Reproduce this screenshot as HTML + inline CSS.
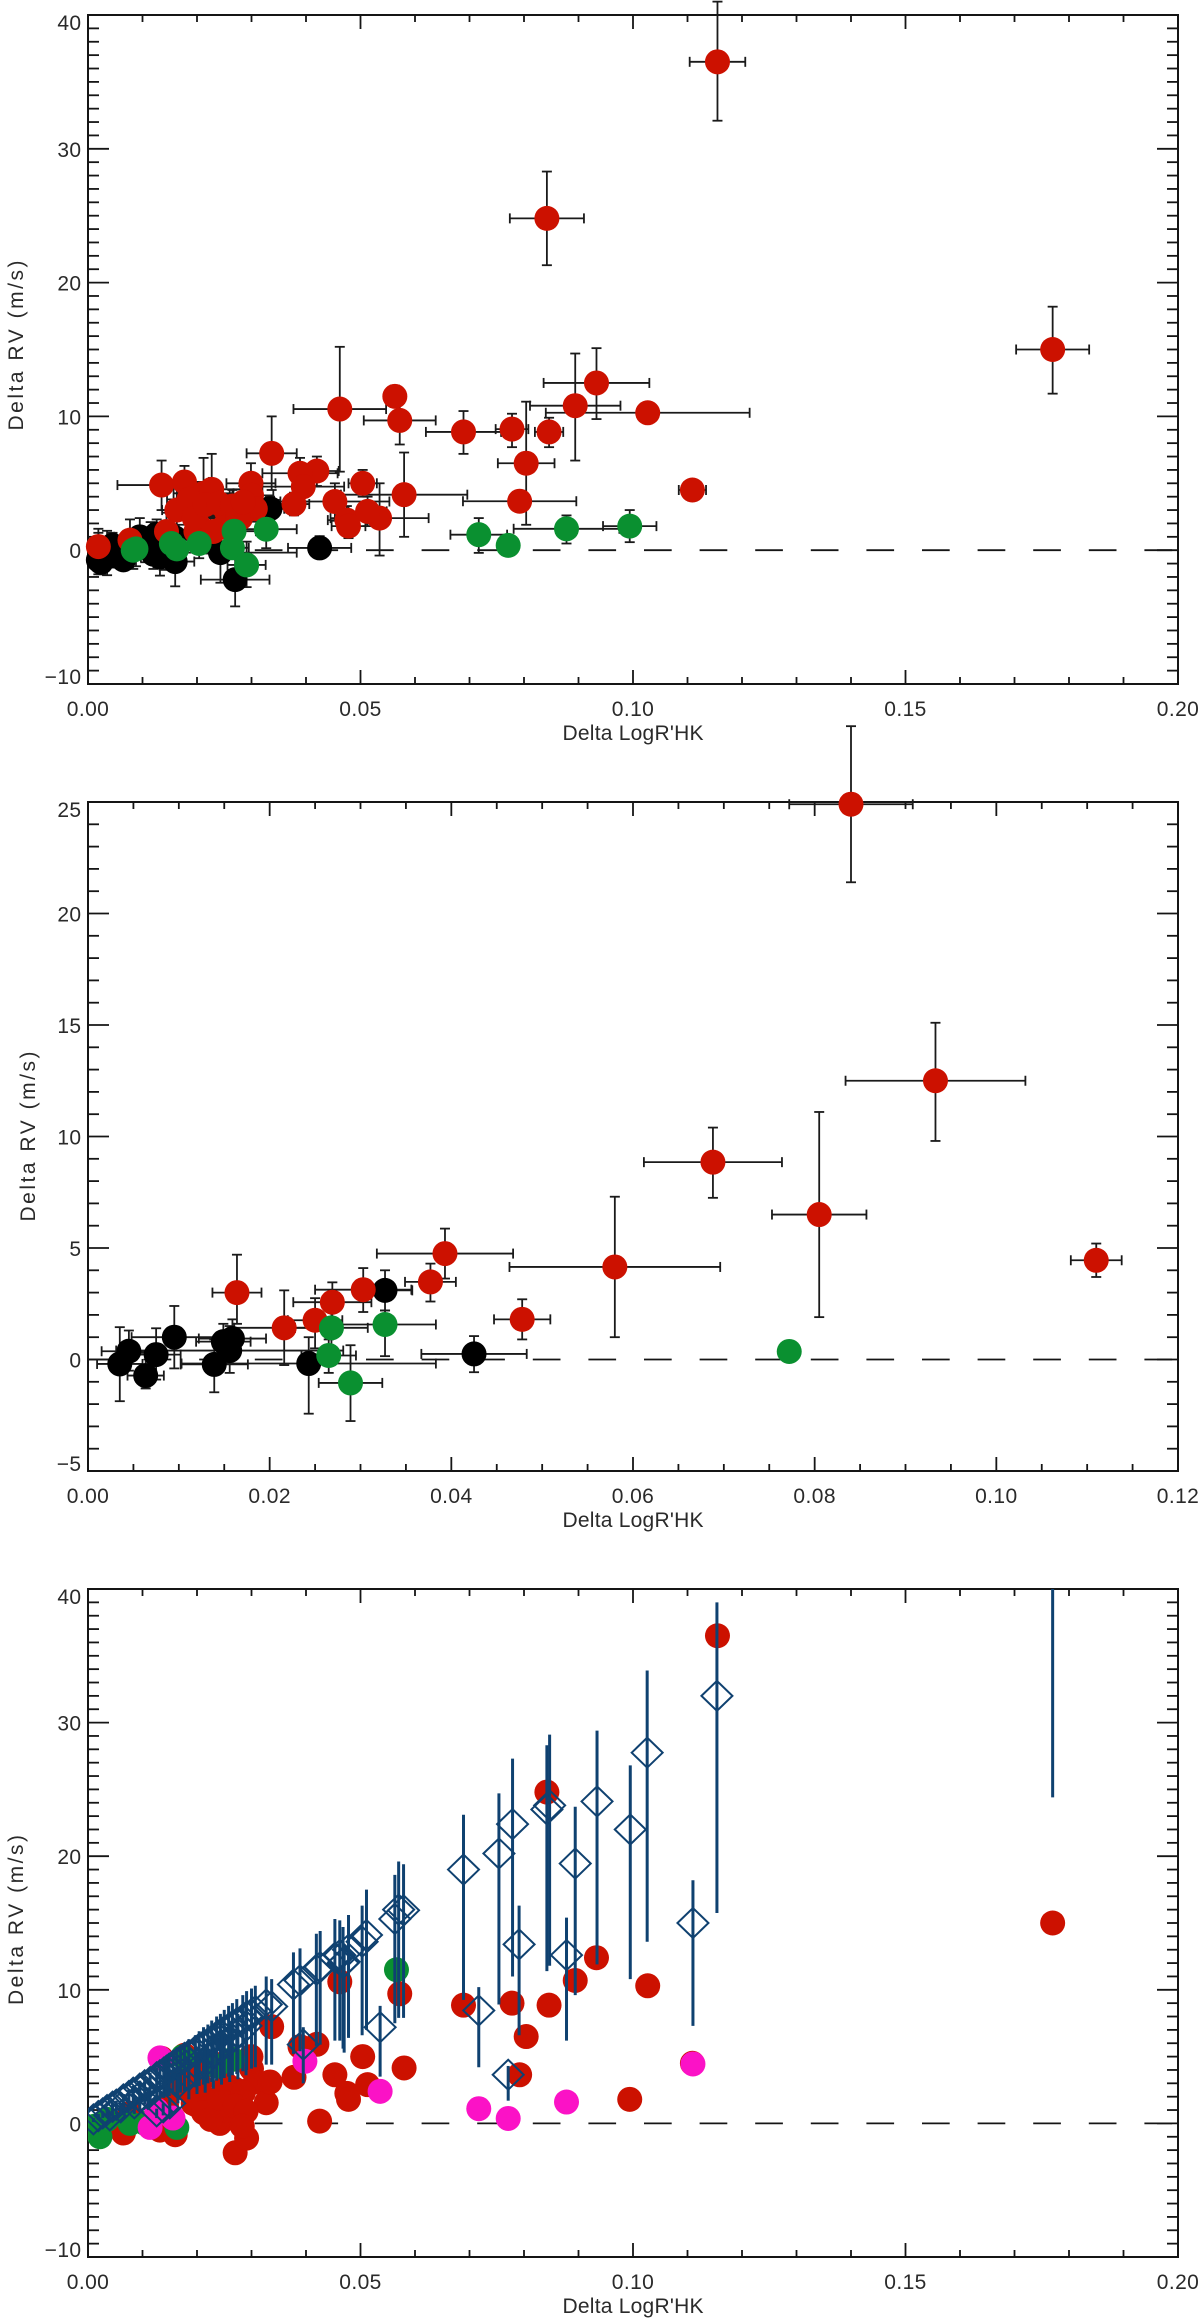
<!DOCTYPE html>
<html lang="en">
<head>
<meta charset="utf-8">
<title>Delta RV vs Delta LogR'HK</title>
<style>
html,body{margin:0;padding:0;background:#fff;}
svg{display:block;}
text{font-family:"Liberation Sans",sans-serif;fill:#2a2a2a;}
.tick{font-size:21px;letter-spacing:.4px;}
.title{font-size:21px;}
</style>
</head>
<body>
<svg id="chart" xmlns="http://www.w3.org/2000/svg" width="1200" height="2322" viewBox="0 0 1200 2322">
<defs><clipPath id="bottom-clip"><rect x="88" y="1589" width="1090" height="668"/></clipPath></defs>
</svg>
<script>
// ---------- top panel data ----------
const topXLabels = ["0.00","0.05","0.10","0.15","0.20"];
const topYLabels = ["-10","0","10","20","30","40"];
const topBlackX = [.0019,.0035,.0045,.0065,.0075,.0095,.0126,.0132,.0139,.0149,.0156,.0159,.016,.0243,.027,.0334,.0425,.0105,.0115,.012,.0145,.0045,.0024];
const topBlackY = [-.73,-.2,.37,-.72,.22,1.0,1.2,-.5,-.22,.8,.4,.94,-.85,-.18,-2.2,3.1,.17,.2,.9,-.3,.4,-.4,-.9];
const topBlackDx = [.0017,.0025,.003,.002,.0027,.0047,.003,.0035,.0037,.003,.0125,.0037,.0035,.014,.0063,.003,.0058,.003,.003,.003,.003,.002,.002];
const topBlackHi = [1.3,1.45,1.3,.3,1.4,2.4,2.3,.9,.9,1.6,1.5,1.8,.6,1.0,-.6,4,1.05,1.3,2.1,.8,1.5,.5,0];
const topBlackLo = [-1.8,-1.87,-.5,-1.3,-.9,-.4,-.1,-1.9,-1.47,-.1,-.6,0,-2.7,-2.43,-4.2,2.2,-.57,-.9,-.3,-1.4,-.7,-1.3,-1.8];

const topRedX = [.1155,.0842,.177,.0933,.0894,.1027,.0846,.0778,.0689,.0804,.0792,.1109,.058,.0572,.0563,.0535,.0462,.0337,.042,.0389,.0395,.0378,.0504,.0453,.0475,.0478,.0513,.0135,.0177,.0212,.0227,.0299,.03,.0307,.0163,.0217,.025,.0268,.0144,.0202,.0198,.023,.0254,.028,.0019,.0077,.0185,.0195,.0215,.024,.0265,.0275,.0285];
const topRedY = [36.5,24.8,15,12.5,10.8,10.27,8.84,9.05,8.84,6.5,3.66,4.5,4.15,9.7,11.5,2.4,10.55,7.24,5.92,5.75,4.75,3.45,5.0,3.64,2.25,1.8,2.9,4.87,5.1,4.25,4.55,5.0,4.1,3.1,3.0,1.42,1.76,2.6,1.4,1.9,1.4,1.4,2.9,2.4,.27,.75,3.8,2.4,3.4,3.5,3.3,2.6,3.6];
const topRedDx = [.0051,.0068,.0067,.0097,.0083,.0187,.0026,.003,.0069,.0052,.0104,.0025,.0116,.0066,.0015,.009,.0085,.0046,.004,.0069,.0075,.0028,.0026,.01,.0035,.0031,.0035,.0081,.0045,.0055,.0055,.0045,.004,.0053,.0027,.0025,.003,.0043,.005,.005,.004,.004,.005,.004,.0017,.003,.004,.004,.004,.004,.004,.004,.004];
const topRedHi = [41,28.3,18.2,15.1,14.7,11,9.9,10.2,10.4,11.1,4.4,5.2,7.3,11,12.3,5.0,15.2,10,7,6.9,5.87,4.3,6,5,3.3,2.7,4,6.7,6.3,6.9,7.2,6.5,5.5,4.1,4.7,3.1,2.75,3.46,2.8,3.3,2.6,2.6,4.2,3.4,1.6,2.3,5,3.6,4.6,4.7,4.5,3.8,4.8];
const topRedLo = [32.1,21.3,11.7,9.8,6.7,9.5,7.7,7.7,7.2,1.9,2.9,3.7,1.0,7.9,10.7,-.4,5.87,4.5,4.8,4.6,3.63,2.6,4,2.2,1.2,.9,1.8,3,3.8,2,2.5,3.5,2.8,2.13,1.6,-.25,.5,1.5,.1,.5,.2,.2,1.6,1.4,-1.1,-.8,2.6,1.2,2.2,2.3,2.1,1.4,2.4];

const topGreenX = [.0083,.0088,.0153,.0163,.0204,.0268,.0265,.0291,.0327,.0717,.0771,.0878,.0994];
const topGreenY = [0,.1,.5,.1,.5,1.42,.18,-1.1,1.57,1.16,.36,1.6,1.8];
const topGreenDx = [.002,.002,.003,.003,.003,.004,.003,.0035,.0056,.0052,.0015,.0097,.0049];
const topGreenHi = [1.3,1.2,1.4,1.1,1.3,2.4,.9,.64,2.2,2.4,.9,2.6,3.0];
const topGreenLo = [-1.4,-1.2,-.5,-1,-.6,.5,-.6,-2.76,.15,-.2,-.1,.5,.6];

// ---------- middle panel data ----------
const midXLabels = ["0.00","0.02","0.04","0.06","0.08","0.10","0.12"];
const midYLabels = ["-5","0","5","10","15","20","25"];
const midBlackX = [.0035,.0045,.00635,.0075,.0095,.0139,.0149,.0156,.0159,.0243,.0327,.0425];
const midBlackY = [-.2,.37,-.72,.22,1.0,-.22,.8,.4,.94,-.18,3.1,.25];
const midBlackDx = [.0025,.003,.002,.0027,.0047,.0037,.003,.0125,.0037,.014,.003,.0058];
const midBlackHi = [1.45,1.3,.3,1.4,2.4,.9,1.6,1.5,1.8,1.0,4.0,1.05];
const midBlackLo = [-1.87,-.5,-1.3,-.9,-.4,-1.47,-.1,-.6,0,-2.43,2.2,-.57];

const midRedX = [.0164,.0216,.025,.0269,.0303,.0377,.0393,.0478,.058,.0688,.0805,.0933,.111,.084];
const midRedY = [3.0,1.42,1.76,2.57,3.13,3.48,4.75,1.8,4.15,8.85,6.5,12.5,4.45,24.9];
const midRedDx = [.0027,.0055,.003,.0043,.0053,.0028,.0075,.0031,.0116,.0076,.0052,.0099,.0028,.0068];
const midRedHi = [4.7,3.1,2.75,3.46,4.1,4.3,5.87,2.7,7.3,10.4,11.1,15.1,5.2,28.4];
const midRedLo = [1.6,-.25,.5,1.5,2.13,2.6,3.63,.9,1.0,7.25,1.9,9.8,3.7,21.4];

const midGreenX = [.0268,.0265,.0327,.0289,.0772];
const midGreenY = [1.42,.18,1.57,-1.05,.36];
const midGreenDx = [.004,.003,.0056,.0035,.0008];
const midGreenHi = [2.4,.9,2.2,.64,.7];
const midGreenLo = [.5,-.6,.15,-2.76,.05];

// ---------- bottom panel data ----------
const botXLabels = ["0.00","0.05","0.10","0.15","0.20"];
const botYLabels = ["-10","0","10","20","30","40"];
const botRedX = [.1155,.0842,.177,.0933,.0894,.1027,.0846,.0778,.0689,.0804,.0792,.1109,.058,.0572,.0462,.0337,.042,.0389,.0378,.0504,.0453,.0475,.0478,.0513,.0135,.0177,.0212,.0227,.0299,.03,.0307,.0163,.0217,.025,.0268,.0144,.0202,.0198,.023,.0254,.028,.0077,.0065,.0132,.016,.027,.0425,.0291,.0242,.0327,.0334,.0994,.0265,.0255,.0285,.0193,.0212,.0225,.024,.027,.029,.0283,.0205,.0178,.0188];
const botRedY = [36.5,24.8,15,12.4,10.7,10.3,8.85,9.0,8.85,6.5,3.64,4.5,4.15,9.7,10.6,7.24,5.92,5.75,3.45,5.0,3.64,2.25,1.8,2.9,4.87,5.1,4.25,4.55,5.0,4.1,3.1,3.0,1.42,1.76,2.6,1.4,1.9,1.4,1.4,2.9,2.4,.75,-.72,-.5,-.85,-2.2,.17,-1.1,0,1.55,3.1,1.8,.4,1.0,2.3,1.5,.8,.3,1.9,1.3,.9,-.2,2.9,2.6,3.5];
const botGreenX = [.0566,.0022,.0077,.0105,.0163,.0174,.0236,.0013,.0035,.0265];
const botGreenY = [11.5,-1.0,0,0,-.3,5,4.3,-.2,.3,4.8];
const botMagentaX = [.111,.0878,.0771,.0717,.0536,.0398,.0132,.0114,.0156,.0126];
const botMagentaY = [4.45,1.6,.37,1.1,2.4,4.65,4.9,-.3,.4,1];
const botDiamondX = [.001,.0019,.0027,.0035,.0045,.0052,.0065,.0075,.0083,.0095,.0104,.0114,.0126,.0132,.0126,.0138,.015,.0139,.0144,.0149,.0156,.0163,.017,.0177,.0185,.0197,.0204,.0212,.022,.0227,.0236,.0243,.025,.0258,.0265,.0273,.0284,.0291,.03,.0307,.0327,.0337,.0377,.0389,.0395,.0419,.0426,.0453,.0462,.0468,.0478,.047,.0503,.0511,.0536,.0563,.057,.0579,.0689,.0717,.0754,.0771,.0779,.0791,.0842,.0847,.0878,.0894,.0934,.0995,.1026,.111,.1154,.177,.004,.006,.0085,.0095,.011,.0165,.0185,.02,.0215,.023,.0245,.026,.0275,.029];
const botDiamondY = [.3,.55,.75,1,1.25,1.4,1.8,2.05,2.3,2.6,2.85,3.1,3.45,3.6,.9,1.2,1.5,3.8,3.95,4.1,4.3,4.5,4.7,4.9,5.1,5.4,5.6,5.8,6,6.2,6.5,6.7,6.9,7.1,7.3,7.5,7.8,8,8.2,8.4,8.9,8.75,10.4,10.7,5.9,11.5,11.7,12.4,12.6,12,13,12.1,13.6,14.1,7.2,15.3,16,15.95,19,8.45,20.2,3.64,22.4,13.4,23.5,23.8,12.6,19.45,24.1,22,27.75,15,32,49,.6,1.2,1.5,2,2.2,3,3.6,4.4,4.6,5.3,5.7,6.2,6.7,7.3];
const botDiamondHi = [.4,.7,.9,1.2,1.5,1.7,2.2,2.5,2.8,3.2,3.5,3.8,4.2,4.4,1.1,1.5,1.9,4.7,4.9,5,5.3,5.5,5.8,6,6.3,6.6,6.9,7.2,7.4,7.7,8,8.2,8.5,8.8,9,9.3,9.6,9.9,10.1,10.3,11,10.8,12.8,13.1,7.2,14.2,14.4,15.3,15.2,14.7,15.6,13.3,16.3,17.5,8.8,18.6,19.6,19.4,23.1,10.2,24.7,4.3,27.3,16.3,28.3,29.1,15.4,23.7,29.4,26.8,33.9,18.2,39,60,.8,1.5,1.9,2.5,2.7,3.7,4.4,5.4,5.7,6.5,7,7.6,8.2,9];
const botDiamondLo = [.1,.25,.4,.5,.6,.7,.9,1,1.1,1.3,1.4,1.5,1.7,1.8,.4,.6,.7,1.9,2,2.05,2.15,2.25,2.3,2.4,2.5,2.7,2.8,2.9,3,3.1,3.2,3.3,3.4,3.5,3.6,3.7,3.9,4,4.1,4.2,4.4,4.4,5.2,5.4,3,5.8,5.9,6.2,6.2,5.6,6.4,5.3,6.6,7,3.5,7.5,7.9,7.9,9.25,4.2,8.9,1.7,11,6.6,11.4,11.8,6.2,9.6,11.9,10.8,13.6,7.3,15.75,24.4,.3,.6,.7,1,1.1,1.5,1.8,2.2,2.3,2.6,2.9,3.1,3.3,3.6];

// ---------- palette & helpers ----------
const RED = "#cc1100", GREEN = "#0a9030", BLACK = "#000000", MAGENTA = "#fb12c6", NAVY = "#0f4170", INK = "#151515";
const svg = document.getElementById("chart");
const NS = "http://www.w3.org/2000/svg";

function mk(tag, attrs, parent) {
  const e = document.createElementNS(NS, tag);
  for (const k in attrs) e.setAttribute(k, attrs[k]);
  parent.appendChild(e);
  return e;
}
function linearScale(d0, d1, r0, r1) {
  return v => r0 + (v - d0) / (d1 - d0) * (r1 - r0);
}
function seg(parent, x1, y1, x2, y2, color, w) {
  return mk("line", {x1, y1, x2, y2, stroke: color, "stroke-width": w}, parent);
}

function drawAxes(g, P, xLabels, yLabels) {
  const xVals = xLabels.map(Number), yVals = yLabels.map(Number);
  const xMin = xVals[0], yMin = yVals[0];

  const frame = mk("rect", {x: P.left, y: P.top, width: P.right - P.left, height: P.bottom - P.top, fill: "none", stroke: INK, "stroke-width": 2}, g);
  
  

  const xStep = (xVals[1] - xVals[0]) / P.xSub;
  for (let i = 0; i <= (xVals.length - 1) * P.xSub; i++) {
    const px = P.sx(xMin + i * xStep), len = i % P.xSub === 0 ? 14 : 7;
    const t1 = seg(g, px, P.bottom, px, P.bottom - len, INK, 1.8);
    
    
    const t2 = seg(g, px, P.top, px, P.top + len, INK, 1.8);
    
    
  }
  const yStep = (yVals[1] - yVals[0]) / P.ySub;
  for (let i = 0; i <= (yVals.length - 1) * P.ySub; i++) {
    const py = P.sy(yMin + i * yStep), len = i % P.ySub === 0 ? 21 : 11;
    const t1 = seg(g, P.left, py, P.left + len, py, INK, 1.8);
    
    
    const t2 = seg(g, P.right, py, P.right - len, py, INK, 1.8);
    
    
  }
  xLabels.forEach((s, i) => {
    const t = mk("text", {x: P.sx(xVals[i]), y: P.bottom + 32, "text-anchor": "middle", class: "tick"}, g);
    t.textContent = s;
    
    
  });
  yLabels.forEach((s, i) => {
    let base = P.sy(yVals[i]) + 8;
    if (i === 0) base -= 8;
    if (i === yLabels.length - 1) base += 7;
    const t = mk("text", {x: 81.5, y: base, "text-anchor": "end", class: "tick"}, g);
    t.textContent = s.replace("-", "\u2212");
    
    
  });

  const xt = mk("text", {x: 633, y: P.bottom + 56, "text-anchor": "middle", class: "title", textLength: 141, lengthAdjust: "spacing"}, g);
  xt.textContent = "Delta LogR'HK";
  
  

  const cy = (P.top + P.bottom) / 2 + P.yTitleShift;
  const yt = mk("text", {x: P.yTitleX, y: cy, "text-anchor": "middle", class: "title", textLength: 170, lengthAdjust: "spacing", transform: "rotate(-90 " + P.yTitleX + " " + cy + ")"}, g);
  yt.textContent = "Delta RV (m/s)";
  
  

  const z = seg(g, P.left, P.sy(0), P.right, P.sy(0), INK, 1.8);
  z.setAttribute("stroke-dasharray", "27.7 27.9");
  
  
}

function drawErrors(g, P, xs, ys, dxs, his, los) {
  xs.forEach((x, i) => {
    const px = P.sx(x), py = P.sy(ys[i]), l = P.sx(x - dxs[i]), r = P.sx(x + dxs[i]), t = P.sy(his[i]), b = P.sy(los[i]);
    const eb = mk("g", {stroke: "#1a1a1a", "stroke-width": 1.8}, g);
    
    
    seg(eb, l, py, r, py, "#1a1a1a", 1.8);
    seg(eb, l, py - 5, l, py + 5, "#1a1a1a", 1.8);
    seg(eb, r, py - 5, r, py + 5, "#1a1a1a", 1.8);
    seg(eb, px, t, px, b, "#1a1a1a", 1.8);
    seg(eb, px - 5, t, px + 5, t, "#1a1a1a", 1.8);
    seg(eb, px - 5, b, px + 5, b, "#1a1a1a", 1.8);
  });
}
function drawDots(g, P, xs, ys, color, name) {
  xs.forEach((x, i) => {
    const c = mk("circle", {cx: P.sx(x), cy: P.sy(ys[i]), r: 12.5, fill: color}, g);
    
    
  });
}
function drawDiamonds(g, P, xs, ys, his, los) {
  xs.forEach((x, i) => {
    const px = P.sx(x), py = P.sy(ys[i]);
    const bar = seg(g, px, P.sy(his[i]), px, P.sy(los[i]), NAVY, 3);
    
    
    const d = mk("polygon", {points: (px - 15.5) + "," + py + " " + px + "," + (py - 15) + " " + (px + 15.5) + "," + py + " " + px + "," + (py + 15), fill: "none", stroke: NAVY, "stroke-width": 2}, g);
    
    
  });
}

// ---------- panels ----------
const topP = {left: 88, right: 1178, top: 15, bottom: 684, xSub: 5, ySub: 10, yTitleX: 23, yTitleShift: -4, sx: linearScale(0, .2, 88, 1178), sy: linearScale(-10, 40, 684, 15)};
const midP = {left: 88, right: 1178, top: 802, bottom: 1471, xSub: 4, ySub: 5, yTitleX: 35, yTitleShift: 0, sx: linearScale(0, .12, 88, 1178), sy: linearScale(-5, 25, 1471, 802)};
const botP = {left: 88, right: 1178, top: 1589, bottom: 2257, xSub: 5, ySub: 10, yTitleX: 23, yTitleShift: -3, sx: linearScale(0, .2, 88, 1178), sy: linearScale(-10, 40, 2257, 1589)};

const topG = mk("g", {}, svg);


drawAxes(topG, topP, topXLabels, topYLabels);
drawErrors(topG, topP, topBlackX, topBlackY, topBlackDx, topBlackHi, topBlackLo);
drawErrors(topG, topP, topRedX, topRedY, topRedDx, topRedHi, topRedLo);
drawErrors(topG, topP, topGreenX, topGreenY, topGreenDx, topGreenHi, topGreenLo);
drawDots(topG, topP, topBlackX, topBlackY, BLACK, "black-point");
drawDots(topG, topP, topRedX, topRedY, RED, "red-point");
drawDots(topG, topP, topGreenX, topGreenY, GREEN, "green-point");

const midG = mk("g", {}, svg);


drawAxes(midG, midP, midXLabels, midYLabels);
drawErrors(midG, midP, midBlackX, midBlackY, midBlackDx, midBlackHi, midBlackLo);
drawErrors(midG, midP, midRedX, midRedY, midRedDx, midRedHi, midRedLo);
drawErrors(midG, midP, midGreenX, midGreenY, midGreenDx, midGreenHi, midGreenLo);
drawDots(midG, midP, midBlackX, midBlackY, BLACK, "black-point");
drawDots(midG, midP, midRedX, midRedY, RED, "red-point");
drawDots(midG, midP, midGreenX, midGreenY, GREEN, "green-point");

const botG = mk("g", {}, svg);


drawAxes(botG, botP, botXLabels, botYLabels);
const botMarks = mk("g", {"clip-path": "url(#bottom-clip)"}, botG);


drawDots(botMarks, botP, botRedX, botRedY, RED, "red-point");
drawDots(botMarks, botP, botGreenX, botGreenY, GREEN, "green-point");
drawDots(botMarks, botP, botMagentaX, botMagentaY, MAGENTA, "magenta-point");
drawDiamonds(botMarks, botP, botDiamondX, botDiamondY, botDiamondHi, botDiamondLo);
</script>
</body>
</html>
